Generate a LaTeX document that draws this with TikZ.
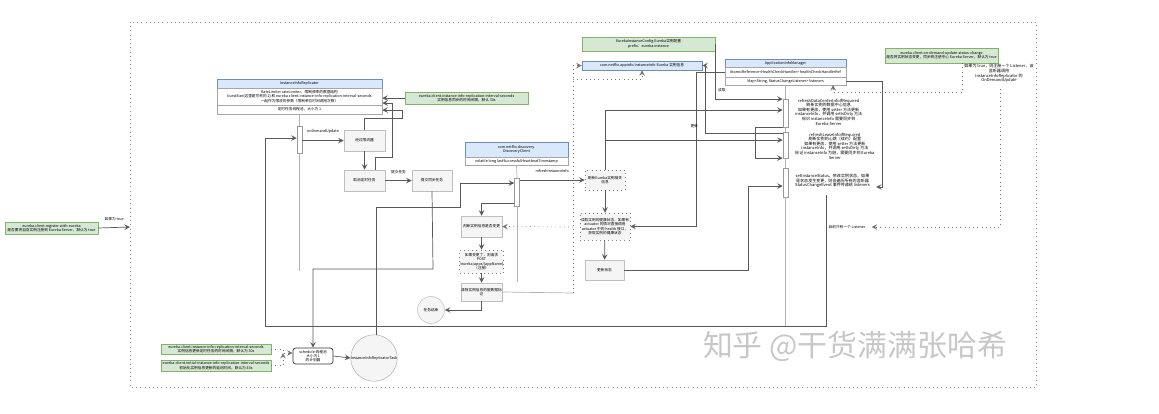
\documentclass[tikz,border=0pt]{standalone}
\usepackage{fontspec}
\setmainfont{Noto Sans CJK SC}
\usetikzlibrary{arrows, shapes}
\definecolor{notefill}{HTML}{D5E8D4}
\definecolor{notedraw}{HTML}{82B366}
\definecolor{headfill}{HTML}{DAE8FC}
\definecolor{headdraw}{HTML}{6C8EBF}
\definecolor{stepfill}{HTML}{F5F5F5}

\begin{document}
\begin{tikzpicture}[x = 0.02cm, y = -0.02cm, font = \fontsize{2.1}{2.5}\selectfont]

\tikzstyle{box_note}=[rectangle, fill=notefill, draw=notedraw, line width=0.3pt, inner sep=0, align=center]
\tikzstyle{box_head}=[rectangle, fill=headfill, draw=headdraw, line width=0.3pt, inner sep=0, align=center]
\tikzstyle{box_sec}=[rectangle, fill=white, draw=black!35, line width=0.3pt, inner sep=0, align=center]
\tikzstyle{box_step}=[rectangle, fill=stepfill, draw=black!25, line width=0.3pt, inner sep=0, align=center]
\tikzstyle{box_bar}=[rectangle, fill=white, draw=black!40, line width=0.3pt, minimum width=0.1cm, inner sep=0]
\tikzstyle{note_txt}=[align=center, font=\fontsize{2.3}{2.6}\selectfont]
\tikzstyle{line_c}=[draw=black!65, line width=0.4pt]
\tikzstyle{arr_c}=[line_c, ->, >=stealth]
\tikzstyle{arr_d}=[draw=black!55, line width=0.4pt, dotted, ->, >=stealth]

\useasboundingbox (0,0) rectangle (1159,413);

% frame
\coordinate (frame_nw) at (130,22);
\coordinate (frame_se) at (1036,387);
\coordinate (frame_in) at (130,227);
\draw[dotted, black!45, line width=0.4pt] (frame_nw) rectangle (frame_se);

% watermark
\path (855,346) node[text=black!22, font=\fontsize{17}{17}\selectfont] (mark) {知乎 @干货满满张哈希};

\path
(51.5,228) node[box_note, minimum width=1.86cm, minimum height=0.24cm] (reg) {eureka.client.register-with-eureka\\是否要将自身实例注册到 Eureka Server，默认为 true}
(299.5,83.5) node[box_head, minimum width=3.3cm, minimum height=0.18cm] (iir_h) {InstanceInfoReplicator}
(299.5,96.5) node[box_sec, minimum width=3.3cm, minimum height=0.34cm] (iir_a) {RateLimiter rateLimiter，限制频率的数据结构\\burstSize(这里是写死的 2) 和 eureka.client.instance-info-replication-interval-seconds\\一起作为限流的参数（限制单位时间调用次数）}
(299.5,109.5) node[box_sec, minimum width=3.3cm, minimum height=0.18cm] (iir_b) {定时任务线程池，大小为 1}
(466.5,98) node[box_note, minimum width=2.46cm, minimum height=0.24cm] (cfg_ri) {eureka.client.instance-info-replication-interval-seconds\\实例信息同步的时间间隔，默认 30s}
(299.5,139.5) node[box_bar, minimum height=0.54cm] (bar_od) {}
(364.5,140.5) node[box_step, minimum width=0.82cm, minimum height=0.42cm] (s1) {经过限流器}
(364.5,180.5) node[box_step, minimum width=0.82cm, minimum height=0.42cm] (s2) {取消定时任务}
(432,180.5) node[box_step, minimum width=0.8cm, minimum height=0.42cm] (s3) {提交同步任务}
(516.5,149.5) node[box_head, minimum width=2.06cm, minimum height=0.3cm] (dc_h) {com.netflix.discovery.\\DiscoveryClient}
(516.5,161) node[box_sec, minimum width=2.06cm, minimum height=0.16cm] (dc_a) {volatile long lastSuccessfulHeartbeatTimestamp}
(517,192) node[box_bar, minimum width=0.1cm, minimum height=0.56cm] (bar_dc) {}
(481.5,226.5) node[box_step, minimum width=0.82cm, minimum height=0.42cm] (d_a) {判断实例信息是否变更}
(481.5,261.5) node[box_step, dotted, draw=black!50, minimum width=0.82cm, minimum height=0.46cm] (d_b) {如果变更了，则请求\\POST\\/eureka/apps/\{appName\}\\（注册）}
(481.5,292) node[box_step, minimum width=0.82cm, minimum height=0.36cm] (d_c) {清除实例信息的脏数据标\\记}
(431,310) node[circle, fill=stepfill, draw=black!25, line width=0.3pt, minimum size=0.54cm, inner sep=0] (d_end) {任务结束}
(648.5,44) node[box_note, minimum width=2.66cm, minimum height=0.28cm] (eic) {EurekaInstanceConfig Eureka实例配置\\prefix：eureka.instance}
(642,65.5) node[box_head, minimum width=2.4cm, minimum height=0.18cm] (ii) {com.netflix.appinfo.InstanceInfo Eureka 实例信息}
(605,180) node[box_step, dotted, draw=black!50, minimum width=0.8cm, minimum height=0.4cm] (r1) {刷新Eureka实例相关\\信息}
(605,226.5) node[box_step, dotted, draw=black!50, minimum width=1cm, minimum height=0.54cm] (r2) {读取实例的健康状态，如果有\\actuator 的情况直接调用\\actuator 中的 health 接口，\\获取实例的健康状态}
(604.5,270) node[box_step, minimum width=0.78cm, minimum height=0.4cm] (r3) {更新状态}
(785.5,63) node[box_head, minimum width=2.42cm, minimum height=0.16cm] (aim_h) {ApplicationInfoManager}
(785.5,72) node[box_sec, minimum width=2.42cm, minimum height=0.2cm] (aim_a) {AtomicReference<HealthCheckHandler> healthCheckHandlerRef}
(785.5,81) node[box_sec, minimum width=2.42cm, minimum height=0.16cm] (aim_b) {Map<String, StatusChangeListener> listeners}
(785.5,113) node[box_bar, minimum height=0.56cm] (bar1) {}
(785.5,145) node[box_bar, minimum height=0.52cm] (bar2) {}
(785.5,182.5) node[box_bar, minimum height=0.58cm] (bar3) {}
(789,112) node[note_txt, anchor=west] (t1) {refreshDataCenterInfoIfRequired\\刷新实例的数据中心信息\\如果有更改，使用 setter 方法更新\\instanceInfo，并调用 setIsDirty 方法\\标识 instanceInfo 需要同步到\\Eureka Server}
(789,146) node[note_txt, anchor=west] (t2) {refreshLeaseInfoIfRequired\\刷新实例的心跳（续约）配置\\如果有更改，使用 setter 方法更新\\instanceInfo，并调用 setIsDirty 方法\\标记 instanceInfo 为脏，需要同步到 Eureka\\Server}
(789,181) node[note_txt, anchor=west] (t3) {setInstanceStatus，修改实例状态，如果\\是状态发生变更，则会遍历所有的监听器\\StatusChangeEvent 事件传递给 listeners}
(941.5,55.5) node[box_note, minimum width=2.26cm, minimum height=0.3cm] (od_cfg) {eureka.client.on-demand-update-status-change\\是否将实例状态变更，同步到注册中心 Eureka Server，默认为 true}
(999,73.5) node[note_txt] (od_txt) {如果为 true，则注册一个 Listener，该\\监听器调用\\InstanceInfoReplicator 的\\OnDemandUpdate}
(847,227) node (lsn) {目前只有一个 Listener}
(313,356) node[rectangle, rounded corners=1.5pt, fill=white, draw=black!80, line width=0.4pt, minimum width=0.8cm, minimum height=0.32cm, inner sep=0, align=center] (sch) {schedule 线程池\\大小为1\\的计划器}
(374,358) node[circle, fill=stepfill, draw=black!30, line width=0.3pt, minimum size=0.92cm, inner sep=0] (task) {InstanceInfoReplicatorTask}
(216,349) node[box_note, minimum width=2.2cm, minimum height=0.2cm] (g1) {eureka.client.instance-info-replication-interval-seconds\\实例信息更新定时任务的时间间隔，默认为 30s}
(216,365.5) node[box_note, minimum width=2.2cm, minimum height=0.22cm] (g2) {eureka.client.initial-instance-info-replication-interval-seconds\\初始化实例信息更新的延迟时间，默认为 40s};

% corner points of the connectors
\coordinate (k1) at (265,326);
\coordinate (k2) at (265,138);
\coordinate (k3) at (826,195);
\coordinate (k4) at (826,326);
\coordinate (life1) at (299.5,271);
\coordinate (life2) at (517,282);
\coordinate (life3) at (785.5,326);
\coordinate (d_side) at (573,227);
\coordinate (c_side) at (573,293);

%arrows
\draw[arr_c] (reg.east) -- node[above=0.5pt] {如果为 true} (frame_in);
\draw[arr_c] (cfg_ri.west) -- (cfg_ri.west -| iir_a.east);
\draw[line_c, black!30] (iir_b.south) -- (bar_od.north);
\draw[line_c, black!30] (bar_od.south) -- (life1);
\draw[arr_c] (bar_od.east |- s1.west) -- node[above=0.5pt] {onDemandUpdate} (s1.west);
\draw[arr_c] (s1) -- (s2);
\draw[arr_c] (s1.north) -- (364.5,118) -- (402,118) -- (402,110) -- (iir_b.east |- 0,110);
\draw[arr_c] (s2.north -| 375,0) -- (375,157) -- (392,157) -- (392,103) -- (iir_a.east |- 0,103);
\draw[arr_c] (s2) -- node[above=0.5pt] {提交任务} (s3);
\draw[arr_c] (s3.south) -- (433,269) -- (313,269) -- (sch.north);
\draw[arr_c] (task.north -| 376,0) -- (376,207) -- (460,207) -- (460,183) -- (bar_dc.west |- 0,183);
\draw[line_c, black!30] (dc_a.south) -- (bar_dc.north);
\draw[line_c, black!30] (bar_dc.south) -- (life2);
\draw[arr_c] (bar_dc.west |- 0,203) -- (481.5,203) -- (d_a.north);
\draw[arr_c] (d_a) -- (d_b);
\draw[arr_c] (d_b) -- (d_c);
\draw[arr_c] (d_c.south) -- (481.5,310) -- (d_end.east);
\draw[line_c, black!30] (d_c.east) -- (c_side);
\draw[arr_d] (c_side) -- (573,65.5) -- (ii.west);
\draw[arr_d] (573,79) -- (642,79) -- (ii.south);
\draw[arr_d] (d_side) -- (d_a.east);
\draw[arr_c] (bar_dc.east |- r1.west) -- node[above=0.5pt] {refreshInstanceInfo} (r1.west);
\draw[arr_c] (r1) -- (r2);
\draw[arr_c] (r2) -- (r3);
\draw[arr_c] (r3.east) -- (748,270) -- (748,186) -- (bar3.west |- 0,186);
\draw[arr_c] (aim_a.west) -- (696,72) -- (696,226.5) -- (r2.east);
\draw[arr_c] (eic.east) -- (715,44) -- (715,99) -- node[above=0.5pt, pos=0.1] {读取} (bar1.west |- 0,99);
\draw[arr_c] (r1.north) -- (605,110) -- (bar1.west |- 0,110);
\draw[arr_c] (605,140) -- (bar2.west |- 0,140);
\draw[arr_c] (bar2.west |- 0,133) -- (705,133) -- node[left=0.5pt, pos=0.1] {更新} (705,65.5) -- (ii.east);
\draw[arr_c] (bar1.west |- 0,127) -- (755,127) -- (755,158) -- (bar2.west |- 0,158);
\draw[line_c, black!30] (aim_b.south) -- (bar1.north);
\draw[line_c, black!30] (bar1.south) -- (bar2.north);
\draw[line_c, black!30] (bar2.south) -- (bar3.north);
\draw[line_c, black!30] (bar3.south) -- (life3);
\draw[arr_c] (aim_b.east) -- (882,81) -- (882,187) -- (t3.east |- 0,187);
\draw[arr_d] (od_cfg.south -| 962,0) -- (962,92) -- (833,92) -- (833,85);
\draw[arr_d] (od_txt.south -| 1000,0) -- (1000,227) -- (lsn.east);
\draw[arr_c] (k3) -- (k4) -- (k1) -- (k2) -- (bar_od.west |- k2);
\draw[arr_c] (sch.east) -- (task.west);
\draw[arr_d] (g1.east) -- (283,349) -- (283,353) -- (sch.west |- 0,353);
\draw[arr_d] (g2.east) -- (283,365.5) -- (283,353);

\end{tikzpicture}
\end{document}
